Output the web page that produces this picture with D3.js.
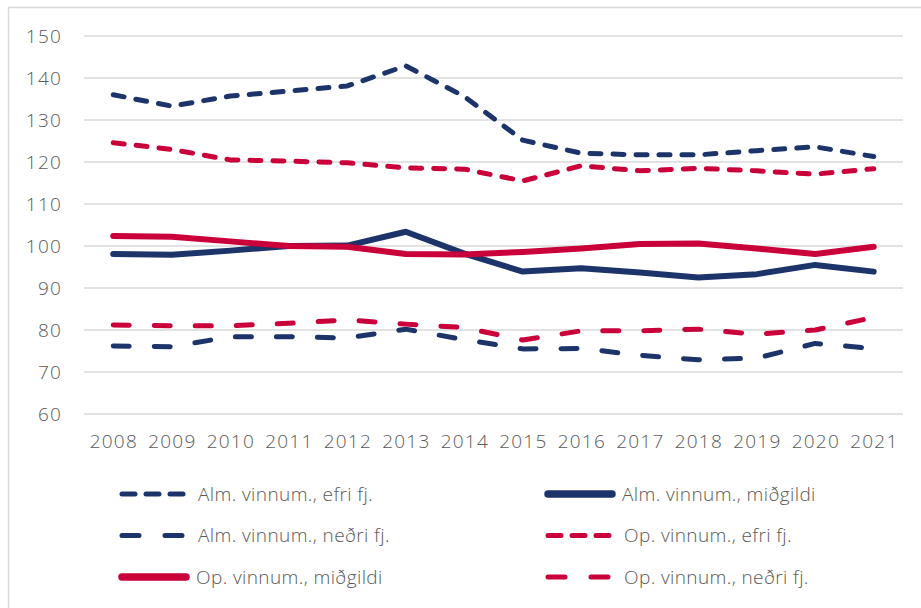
<!DOCTYPE html>
<html lang="is">
<head>
    <meta charset="UTF-8"/>
    <title>Launaþróun</title>
    <script src="https://d3js.org/d3.v7.min.js"></script>
    <style>
        body { margin: 0; background: #fff; }
        svg text { font-family: "Open Sans", "Noto Sans", sans-serif; font-weight: 300; fill: #595959; }
    </style>
</head>
<body>
<script>
    var w = 921;
    var h = 608;

    // data
    var years = ["2008","2009","2010","2011","2012","2013","2014","2015","2016","2017","2018","2019","2020","2021"];
    var yTicks = [60, 70, 80, 90, 100, 110, 120, 130, 140, 150];

    var almEfri   = [136.0, 133.3, 135.7, 136.9, 138.1, 142.9, 135.6, 125.2, 122.1, 121.7, 121.7, 122.7, 123.6, 121.3];
    var almMid    = [98.1, 97.9, 98.9, 100.0, 100.1, 103.4, 98.2, 93.9, 94.7, 93.7, 92.5, 93.3, 95.5, 93.9];
    var almNedri  = [76.2, 76.0, 78.4, 78.4, 78.1, 80.2, 77.7, 75.5, 75.6, 74.0, 72.9, 73.3, 76.8, 75.6];
    var opEfri    = [124.6, 123.0, 120.5, 120.2, 119.8, 118.6, 118.3, 115.5, 119.1, 117.9, 118.5, 117.9, 117.1, 118.4];
    var opMid     = [102.4, 102.2, 101.1, 100.0, 99.8, 98.1, 98.0, 98.6, 99.4, 100.5, 100.6, 99.4, 98.1, 99.8];
    var opNedri   = [81.2, 81.0, 81.0, 81.6, 82.4, 81.4, 80.6, 77.6, 79.8, 79.8, 80.2, 79.0, 80.0, 83.0];

    var navy = "#1c3469";
    var red = "#c9003a";
    var shortDash = "11 12";
    var longDash = "16 25";

    // legend order is row by row, two columns
    var series = [
        { name: "Alm. vinnum., efri fj.",  values: almEfri,  color: navy, dash: shortDash },
        { name: "Alm. vinnum., miðgildi",  values: almMid,   color: navy, dash: null },
        { name: "Alm. vinnum., neðri fj.", values: almNedri, color: navy, dash: longDash },
        { name: "Op. vinnum., efri fj.",   values: opEfri,   color: red,  dash: shortDash },
        { name: "Op. vinnum., miðgildi",   values: opMid,    color: red,  dash: null },
        { name: "Op. vinnum., neðri fj.",  values: opNedri,  color: red,  dash: longDash }
    ];

    var plotLeft = 84, plotRight = 903, plotTop = 36, plotBottom = 414;

    var xScale = d3.scaleBand()
        .domain(years)
        .range([plotLeft, plotRight]);

    var yScale = d3.scaleLinear()
        .domain([60, 150])
        .range([plotBottom, plotTop]);

    var svg = d3.select("body")
        .append("svg")
        .attr("width", w)
        .attr("height", h);

    // frame (top and left edge only)
    svg.append("line")
        .attr("x1", 8).attr("x2", w).attr("y1", 7.5).attr("y2", 7.5)
        .style("stroke", "#d9d9d9").style("stroke-width", 1.5);
    svg.append("line")
        .attr("x1", 8.5).attr("x2", 8.5).attr("y1", 7).attr("y2", h)
        .style("stroke", "#d9d9d9").style("stroke-width", 1.5);

    // gridlines
    svg.selectAll(".grid")
        .data(yTicks)
        .enter()
        .append("line")
        .attr("class", "grid")
        .attr("x1", plotLeft)
        .attr("x2", plotRight)
        .attr("y1", function(d){ return yScale(d); })
        .attr("y2", function(d){ return yScale(d); })
        .style("stroke", "#d9d9d9")
        .style("stroke-width", 1.5);

    // y labels
    svg.selectAll(".ylab")
        .data(yTicks)
        .enter()
        .append("text")
        .attr("class", "ylab")
        .attr("x", 62)
        .attr("y", function(d){ return yScale(d); })
        .attr("dy", "0.36em")
        .attr("text-anchor", "end")
        .style("font-size", "19px")
        .style("letter-spacing", "1.2px")
        .text(function(d){ return d; });

    // x labels
    svg.selectAll(".xlab")
        .data(years)
        .enter()
        .append("text")
        .attr("class", "xlab")
        .attr("x", function(d){ return xScale(d) + xScale.bandwidth() / 2 + 0.6; })
        .attr("y", 448)
        .attr("text-anchor", "middle")
        .style("font-size", "19px")
        .style("letter-spacing", "1.2px")
        .text(function(d){ return d; });

    var line = d3.line()
        .x(function(d, i){ return xScale(years[i]) + xScale.bandwidth() / 2; })
        .y(function(d){ return yScale(d); });

    svg.selectAll(".series")
        .data(series)
        .enter()
        .append("path")
        .attr("class", "series")
        .attr("d", function(d){ return line(d.values); })
        .style("fill", "none")
        .style("stroke", function(d){ return d.color; })
        .style("stroke-width", function(d){ return d.dash ? 5 : 6; })
        .style("stroke-linecap", "round")
        .style("stroke-linejoin", "round")
        .style("stroke-dasharray", function(d){ return d.dash; });

    // legend
    var legend = svg.selectAll(".legend")
        .data(series)
        .enter()
        .append("g")
        .attr("class", "legend")
        .attr("transform", function(d, i){
            var col = i % 2, row = Math.floor(i / 2);
            return "translate(" + (col ? 548 : 122) + "," + (494 + row * 41.5) + ")";
        });

    legend.append("line")
        .attr("x1", 0).attr("x2", 64)
        .attr("y1", 0).attr("y2", 0)
        .style("stroke", function(d){ return d.color; })
        .style("stroke-width", function(d){ return d.dash ? 5 : 7.5; })
        .style("stroke-linecap", "round")
        .style("stroke-dasharray", function(d){ return d.dash ? (d.dash == shortDash ? "13 11" : "17 26") : null; });

    legend.append("text")
        .attr("x", function(d){ return d.dash ? 76 : 74; })
        .attr("y", 0)
        .attr("dy", "0.36em")
        .style("font-size", "19px")
        .style("letter-spacing", "0.4px")
        .text(function(d){ return d.name; });
</script>
</body>
</html>
